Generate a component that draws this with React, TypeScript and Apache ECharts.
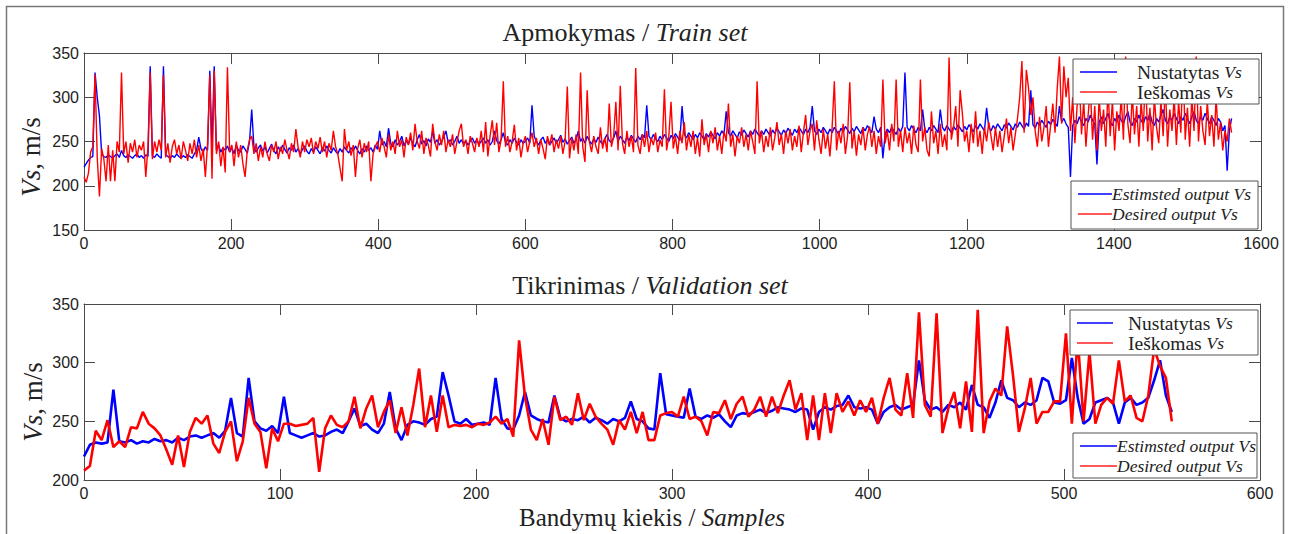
import React, { useEffect, useRef } from "react";
import * as echarts from "echarts";

// ---- Train set (samples 0..1560, every 3rd sample) ----
const TRAIN_STEP = 3;
const trainEstimated = [
  221,225,229,232,233,328,300,279,236,233,232,235,233,231,234,236,232,240,234,232,
  235,233,231,234,236,232,234,231,235,233,335,234,232,236,233,231,335,235,233,231,
  234,232,236,233,231,234,232,235,233,231,236,240,255,242,238,244,240,330,242,335,
  240,246,238,243,240,245,238,243,236,246,240,238,245,241,237,250,286,244,238,243,
  246,239,244,237,242,247,240,236,244,239,246,241,237,243,240,246,238,242,236,241,
  245,239,236,242,238,244,240,236,243,239,245,240,237,243,239,236,242,238,244,240,
  237,243,239,245,240,236,242,238,245,240,243,238,246,241,262,246,250,244,265,248,
  244,252,246,250,256,245,251,247,254,248,244,252,258,247,251,245,253,249,262,248,
  252,246,250,255,262,249,252,246,250,256,248,252,247,251,246,250,254,248,252,247,
  250,254,248,252,246,250,262,251,247,252,260,249,246,252,248,254,249,246,252,248,
  250,254,248,291,256,250,246,252,255,248,252,246,250,254,248,252,257,249,253,247,
  251,255,248,252,262,250,254,248,256,251,247,253,249,255,250,247,253,258,251,249,
  254,262,250,256,252,248,255,251,257,253,249,256,252,258,254,291,256,252,258,253,
  250,256,252,258,254,250,257,253,259,255,251,290,258,254,260,256,252,258,254,260,
  256,252,259,255,261,257,253,260,256,262,258,284,260,256,262,258,254,261,257,263,
  259,255,262,258,264,260,256,262,258,264,260,256,263,259,265,261,257,263,259,265,
  261,257,264,260,266,262,258,264,260,266,290,262,258,264,260,266,262,258,264,260,
  266,262,258,265,261,267,263,259,265,261,267,263,259,266,262,268,264,260,278,264,
  260,266,231,258,264,260,266,262,258,265,261,267,328,266,262,268,264,260,266,262,
  286,264,260,266,262,268,264,260,286,266,262,268,264,260,267,263,269,265,261,267,
  263,269,265,261,268,264,270,266,262,288,266,262,268,264,270,266,262,269,265,271,
  267,263,270,266,272,268,264,271,267,308,269,265,272,268,274,270,266,273,269,275,
  271,267,290,272,276,270,266,210,268,274,270,278,272,268,276,272,280,274,270,224,
  272,278,270,276,282,272,268,276,272,280,274,270,278,284,272,268,276,272,280,274,
  270,278,274,282,272,268,276,272,280,286,274,270,278,274,282,276,270,278,274,282,
  276,270,278,284,274,270,278,274,282,276,270,278,274,268,276,272,262,268,217,262,
  276,
];
const trainDesired = [
  210,204,214,238,244,326,232,188,242,230,205,246,205,240,205,250,238,328,236,250,
  226,248,238,252,232,246,240,250,210,244,328,230,250,238,252,240,325,232,248,226,
  244,252,236,246,230,250,240,228,248,236,252,232,246,228,242,210,248,325,208,330,
  236,250,222,244,215,334,238,246,222,250,232,246,225,210,240,252,256,236,248,228,
  244,232,250,236,228,246,238,250,230,244,236,252,240,230,248,238,264,244,232,250,
  238,252,244,254,236,250,242,255,238,250,232,248,240,262,244,236,220,205,264,240,
  250,234,246,210,242,252,232,248,238,250,205,236,244,250,238,254,244,232,258,240,
  250,236,262,244,252,232,255,246,260,240,270,250,242,262,236,254,246,233,270,250,
  240,258,246,262,238,252,244,258,236,250,262,270,244,252,236,256,248,238,254,244,
  262,238,272,233,256,274,246,271,238,252,318,244,256,238,250,269,240,254,232,248,
  256,238,250,260,244,254,236,252,242,230,256,246,258,238,252,242,256,236,250,312,
  231,254,240,258,236,328,244,227,308,250,238,256,244,236,266,242,254,238,293,244,
  256,295,240,313,248,236,262,244,256,238,333,246,236,258,244,262,238,254,246,260,
  238,252,244,309,240,256,295,242,256,236,262,248,272,240,258,244,262,236,254,233,
  275,246,258,238,262,248,266,240,256,236,262,250,293,244,258,233,256,248,266,244,
  258,240,262,250,236,318,248,262,238,256,244,266,240,254,272,246,258,236,262,248,
  264,240,256,244,268,238,260,280,246,262,270,240,274,252,236,264,242,258,233,266,
  318,240,262,248,270,236,256,317,242,262,234,258,246,266,240,258,267,244,262,236,
  256,244,320,248,262,240,270,250,320,244,262,238,266,248,260,236,268,246,238,320,
  250,266,240,233,284,248,262,236,270,244,258,240,345,252,266,290,244,308,282,250,
  262,238,270,248,284,244,262,236,266,250,272,256,240,266,244,262,238,256,276,248,
  266,240,258,276,300,341,260,331,310,280,300,262,244,278,250,266,290,244,268,293,
  260,310,346,270,335,300,322,262,300,248,290,320,258,296,244,280,310,252,290,240,
  300,262,286,244,310,256,296,240,284,262,300,252,346,270,248,305,258,290,244,296,
  262,330,250,288,240,300,266,248,296,256,316,244,286,262,300,246,295,260,340,252,
  288,244,300,262,346,250,290,262,246,296,256,280,244,300,252,272,240,262,250,276,
  260,
];

// ---- Validation set (samples 0..555, every 3rd sample) ----
const VALID_STEP = 3;
const validEstimated = [
  220,230,232,231,232,277,233,232,234,231,
  233,232,235,233,234,232,236,234,237,238,
  236,238,240,236,242,270,240,237,287,250,
  244,242,246,240,271,240,238,236,238,240,
  237,238,241,243,240,250,261,246,248,243,
  240,248,275,244,234,247,250,249,247,252,
  254,292,272,250,248,252,247,248,249,247,
  287,252,244,243,255,275,255,252,250,249,
  272,253,250,252,251,254,249,253,251,248,
  252,250,253,267,252,250,244,243,291,256,
  255,254,253,278,254,252,255,253,256,250,
  245,255,257,256,258,260,257,259,262,261,
  260,258,261,260,243,258,262,260,263,264,
  272,262,261,262,260,248,258,262,264,260,
  262,264,302,268,260,262,258,264,262,266,
  260,281,264,262,253,266,285,270,268,262,
  266,264,268,287,284,266,265,268,304,270,
  248,252,266,268,270,266,248,266,270,264,
  266,270,285,302,272,258,
];
const validDesired = [
  208,212,242,234,251,228,233,228,245,244,
  258,248,244,238,226,213,238,211,241,253,
  248,255,231,223,241,250,216,233,270,248,
  241,210,244,233,248,248,246,247,248,253,
  207,244,255,247,245,250,271,244,261,272,
  245,258,268,240,262,238,264,295,245,272,
  241,272,245,247,246,247,245,248,247,249,
  254,248,252,237,319,271,243,234,252,230,
  271,251,254,247,274,251,265,254,248,243,
  230,251,243,258,240,258,234,234,255,257,
  258,254,271,252,254,250,238,258,257,268,
  252,265,271,254,260,271,254,271,257,272,
  285,260,274,234,272,234,274,240,274,258,
  267,255,268,258,270,248,270,287,260,255,
  291,253,343,264,254,342,240,261,275,244,
  284,241,345,240,267,278,272,331,289,241,
  261,287,248,258,258,267,267,325,248,321,
  250,309,248,264,270,265,302,267,272,253,
  250,272,312,297,287,250,
];

const toPairs = (arr: number[], step: number) => arr.map((v, i) => [i * step, v]);

const SERIF = "'Liberation Serif', 'Times New Roman', serif";
const SANS = "'Liberation Sans', Arial, Helvetica, sans-serif";
const AXIS_COLOR = "#4a4a4a";
const TEXT_COLOR = "#222";

function richStyles(size: number, italicSize?: number) {
  return {
    n: { fontFamily: SERIF, fontSize: size, fill: TEXT_COLOR, color: TEXT_COLOR },
    i: { fontFamily: SERIF, fontSize: italicSize || size, fontStyle: "italic", fill: TEXT_COLOR, color: TEXT_COLOR },
  };
}

function label(x: number, y: number, text: string, size: number, extra: any = {}) {
  return {
    type: "text",
    x,
    y,
    z: 100,
    ...extra,
    style: {
      text,
      rich: richStyles(size),
      fill: TEXT_COLOR,
      align: "center",
      verticalAlign: "middle",
    },
  };
}

function legendBox(
  bx: number, by: number, bw: number, bh: number,
  lx1: number, lx2: number, tx: number, y1: number, y2: number,
  t1: string, t2: string
) {
  const txt = (y: number, t: string) => ({
    type: "text",
    x: tx,
    y,
    z: 102,
    style: { text: t, rich: richStyles(19.5, 17.5), fill: TEXT_COLOR, align: "left", verticalAlign: "middle" },
  });
  return [
    { type: "rect", z: 100, shape: { x: bx, y: by, width: bw, height: bh }, style: { fill: "#fff", stroke: "#555", lineWidth: 1 } },
    { type: "line", z: 101, shape: { x1: lx1, y1, x2: lx2, y2: y1 }, style: { stroke: "#0000ff", lineWidth: 1.5 } },
    { type: "line", z: 101, shape: { x1: lx1, y1: y2, x2: lx2, y2: y2 }, style: { stroke: "#ff2020", lineWidth: 1.5 } },
    txt(y1, t1),
    txt(y2, t2),
  ];
}

function xAxes(grid: number, max: number, interval: number) {
  const common = {
    type: "value",
    gridIndex: grid,
    min: 0,
    max,
    interval,
    axisLine: { show: true, onZero: false, lineStyle: { color: AXIS_COLOR, width: 1 } },
    axisTick: { show: true, inside: true, length: 11, lineStyle: { color: AXIS_COLOR, width: 1 } },
    splitLine: { show: false },
  };
  return [
    {
      ...common,
      position: "bottom",
      axisLabel: { show: true, color: TEXT_COLOR, fontFamily: SANS, fontSize: 16, margin: 5, formatter: (v: number) => String(v) },
    },
    { ...common, position: "top", axisLabel: { show: false } },
  ];
}

function yAxes(grid: number, min: number, max: number, interval: number) {
  const common = {
    type: "value",
    gridIndex: grid,
    min,
    max,
    interval,
    axisLine: { show: true, onZero: false, lineStyle: { color: AXIS_COLOR, width: 1 } },
    axisTick: { show: true, inside: true, length: 11, lineStyle: { color: AXIS_COLOR, width: 1 } },
    splitLine: { show: false },
  };
  return [
    {
      ...common,
      position: "left",
      axisLabel: { show: true, color: TEXT_COLOR, fontFamily: SANS, fontSize: 16, margin: 5, formatter: (v: number) => String(v) },
    },
    { ...common, position: "right", axisLabel: { show: false } },
  ];
}

export default function App() {
  const ref = useRef<HTMLDivElement>(null);

  useEffect(() => {
    if (!ref.current) return;
    const chart = echarts.init(ref.current, null, { renderer: "svg" });
    const option: any = {
      animation: false,
      backgroundColor: "#ffffff",
      grid: [
        { left: 84, top: 53, width: 1177, height: 177 },
        { left: 84, top: 304, width: 1176, height: 176 },
      ],
      xAxis: [...xAxes(0, 1600, 200), ...xAxes(1, 600, 100)],
      yAxis: [...yAxes(0, 150, 350, 50), ...yAxes(1, 200, 350, 50)],
      series: [
        {
          name: "Estimated (train)", type: "line", xAxisIndex: 0, yAxisIndex: 0,
          showSymbol: false, symbol: "none", data: toPairs(trainEstimated, TRAIN_STEP),
          lineStyle: { color: "#0000ff", width: 1.4 }, itemStyle: { color: "#0000ff" }, z: 2,
        },
        {
          name: "Desired (train)", type: "line", xAxisIndex: 0, yAxisIndex: 0,
          showSymbol: false, symbol: "none", data: toPairs(trainDesired, TRAIN_STEP),
          lineStyle: { color: "#ff0000", width: 1.4 }, itemStyle: { color: "#ff0000" }, z: 3,
        },
        {
          name: "Estimated (validation)", type: "line", xAxisIndex: 2, yAxisIndex: 2,
          showSymbol: false, symbol: "none", data: toPairs(validEstimated, VALID_STEP),
          lineStyle: { color: "#0000ff", width: 2.6 }, itemStyle: { color: "#0000ff" }, z: 2,
        },
        {
          name: "Desired (validation)", type: "line", xAxisIndex: 2, yAxisIndex: 2,
          showSymbol: false, symbol: "none", data: toPairs(validDesired, VALID_STEP),
          lineStyle: { color: "#ff0000", width: 2.6 }, itemStyle: { color: "#ff0000" }, z: 3,
        },
      ],
      graphic: [
        { type: "rect", z: 0, shape: { x: 6.5, y: 6.5, width: 1277, height: 560 }, style: { fill: "none", stroke: "#777", lineWidth: 1.5 } },
        label(625, 32, "{n|Apmokymas / }{i|Train set}", 26),
        label(650, 285, "{n|Tikrinimas / }{i|Validation set}", 26),
        label(652, 517, "{n|Bandymų kiekis / }{i|Samples}", 25),
        label(31, 157, "{i|Vs}{n|, m/s}", 27, { rotation: Math.PI / 2 }),
        label(33, 402, "{i|Vs}{n|, m/s}", 27, { rotation: Math.PI / 2 }),
        ...legendBox(1073, 59, 186, 45, 1080, 1117, 1137, 72, 92, "{n|Nustatytas }{i|Vs}", "{n|Ieškomas }{i|Vs}"),
        ...legendBox(1071, 181, 187, 48, 1078, 1112, 1112, 194, 214, "{i|Estimsted output Vs}", "{i|Desired output Vs}"),
        ...legendBox(1070, 310, 188, 45, 1077, 1113, 1128, 323, 343, "{n|Nustatytas }{i|Vs}", "{n|Ieškomas }{i|Vs}"),
        ...legendBox(1073, 433, 184, 45, 1080, 1117, 1117, 446, 466, "{i|Estimsted output Vs}", "{i|Desired output Vs}"),
      ],
    };
    chart.setOption(option);
    return () => chart.dispose();
  }, []);

  return (
    <div
      ref={ref}
      style={{ position: "absolute", left: 0, top: 0, width: 1290, height: 534, background: "#fff" }}
    />
  );
}
